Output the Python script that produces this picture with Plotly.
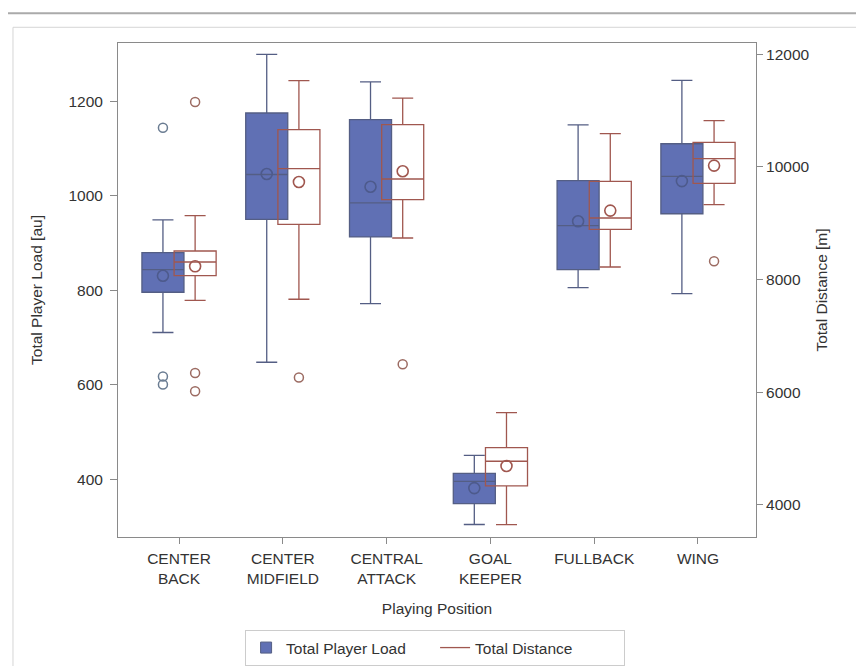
import plotly.graph_objects as go

categories = ["CENTER<br>BACK", "CENTER<br>MIDFIELD", "CENTRAL<br>ATTACK", "GOAL<br>KEEPER", "FULLBACK", "WING"]

# Total Player Load [au] (left axis)
load_q1 = [796, 950, 913, 349, 844, 962]
load_median = [844, 1045, 985, 396, 937, 1041]
load_q3 = [880, 1175, 1161, 413, 1032, 1110]
load_low = [711, 648, 772, 305, 806, 793]
load_high = [949, 1299, 1241, 451, 1150, 1244]
load_mean = [831, 1046, 1019, 382, 946, 1031]
load_outliers = [[1144, 618, 601], [], [], [], [], []]

# Total Distance [m] (right axis)
dist_q1 = [8071, 8982, 9421, 4336, 8893, 9710]
dist_median = [8313, 9971, 9786, 4775, 9094, 10148]
dist_q3 = [8508, 10663, 10752, 5018, 9745, 10438]
dist_low = [7633, 7651, 8739, 3651, 8224, 9332]
dist_high = [9137, 11533, 11224, 5639, 10592, 10823]
dist_mean = [8236, 9733, 9923, 4691, 9225, 10024]
dist_outliers = [[11153, 6342, 6017], [6261], [6497], [], [], [8325]]

OFF = 0.155
BW = 0.405
BLUE_FILL = "#6070B4"
BLUE_LINE = "#545E84"
RED_LINE = "#A0574F"
FONT = "Liberation Sans, Arial, sans-serif"
FS = 15.5

idx = list(range(len(categories)))
xb = [i - OFF for i in idx]
xr = [i + OFF for i in idx]

fig = go.Figure()

fig.add_trace(go.Box(
    x=xb, q1=load_q1, median=load_median, q3=load_q3,
    lowerfence=load_low, upperfence=load_high,
    width=BW, whiskerwidth=0.5,
    fillcolor=BLUE_FILL, line=dict(color=BLUE_LINE, width=1.3),
    boxpoints=False, showlegend=False, yaxis="y", hoverinfo="skip",
))
fig.add_trace(go.Box(
    x=xr, q1=dist_q1, median=dist_median, q3=dist_q3,
    lowerfence=dist_low, upperfence=dist_high,
    width=BW, whiskerwidth=0.5,
    fillcolor="rgba(0,0,0,0)", line=dict(color=RED_LINE, width=1.3),
    boxpoints=False, showlegend=False, yaxis="y2", hoverinfo="skip",
))

# means
fig.add_trace(go.Scatter(
    x=xb, y=load_mean, mode="markers", yaxis="y", showlegend=False,
    marker=dict(symbol="circle-open", size=11, color="#4D5A8C", line=dict(width=1.6)),
))
fig.add_trace(go.Scatter(
    x=xr, y=dist_mean, mode="markers", yaxis="y2", showlegend=False,
    marker=dict(symbol="circle-open", size=11, color=RED_LINE, line=dict(width=1.6)),
))

# outliers
ob_x, ob_y, or_x, or_y = [], [], [], []
for i, vals in enumerate(load_outliers):
    for v in vals:
        ob_x.append(i - OFF)
        ob_y.append(v)
for i, vals in enumerate(dist_outliers):
    for v in vals:
        or_x.append(i + OFF)
        or_y.append(v)
fig.add_trace(go.Scatter(
    x=ob_x, y=ob_y, mode="markers", yaxis="y", showlegend=False,
    marker=dict(symbol="circle-open", size=9, color="#6A7C92", line=dict(width=1.5)),
))
fig.add_trace(go.Scatter(
    x=or_x, y=or_y, mode="markers", yaxis="y2", showlegend=False,
    marker=dict(symbol="circle-open", size=9, color="#9C6B62", line=dict(width=1.5)),
))

# legend proxies
fig.add_trace(go.Scatter(
    x=[None], y=[None], mode="markers", name="Total Player Load",
    marker=dict(symbol="square", size=11, color=BLUE_FILL, line=dict(color=BLUE_LINE, width=1)),
))
fig.add_trace(go.Scatter(
    x=[None], y=[None], mode="lines", name="Total Distance",
    line=dict(color=RED_LINE, width=1.3),
))

axis_col = "#8A8A8A"
# page body adds an 8px offset; plot area aimed at x 118-756, y 43-537 in the window
fig.update_layout(
    width=856, height=658,
    margin=dict(l=110, r=108, t=35, b=129, autoexpand=False),
    paper_bgcolor="white", plot_bgcolor="white",
    font=dict(family=FONT, size=FS, color="#333333"),
    boxmode="overlay",
    xaxis=dict(
        range=[-0.588, 5.559], tickmode="array", tickvals=idx, ticktext=categories,
        showline=True, linecolor=axis_col, linewidth=1, mirror=True,
        ticks="outside", ticklen=6, tickcolor=axis_col, showgrid=False, zeroline=False,
        title=dict(text="Playing Position", font=dict(size=FS), standoff=17),
        tickfont=dict(size=FS), ticklabelstandoff=1,
    ),
    yaxis=dict(
        range=[278.6, 1323], tickvals=[400, 600, 800, 1000, 1200],
        showline=True, linecolor=axis_col, linewidth=1,
        ticks="outside", ticklen=7, tickcolor=axis_col, showgrid=False, zeroline=False,
        tickfont=dict(size=FS), ticklabelstandoff=4,
        title=dict(text="Total Player Load [au]", font=dict(size=FS), standoff=21),
    ),
    yaxis2=dict(
        range=[3430, 12201], tickvals=[4000, 6000, 8000, 10000, 12000], tickformat="d",
        overlaying="y", side="right",
        showline=True, linecolor=axis_col, linewidth=1,
        ticks="outside", ticklen=6, tickcolor=axis_col, showgrid=False, zeroline=False,
        tickfont=dict(size=FS),
        title=dict(text="Total Distance [m]", font=dict(size=FS), standoff=7),
    ),
    legend=dict(
        orientation="h", x=0.497, xanchor="center", y=-0.2247, yanchor="middle",
        bordercolor="#CCCCCC", borderwidth=1, font=dict(size=FS),
        itemwidth=30, tracegroupgap=0, entrywidth=144,
    ),
    shapes=[
        dict(type="line", xref="paper", yref="paper", x0=-0.19, x1=1.2, y0=1.0601, y1=1.0601,
             line=dict(color="#AAAAAA", width=2)),
        dict(type="rect", xref="paper", yref="paper", x0=-0.1646, x1=1.25, y0=-0.3, y1=1.0318,
             line=dict(color="#D5D5D5", width=1)),
    ],
)

fig.write_html("out.html")
